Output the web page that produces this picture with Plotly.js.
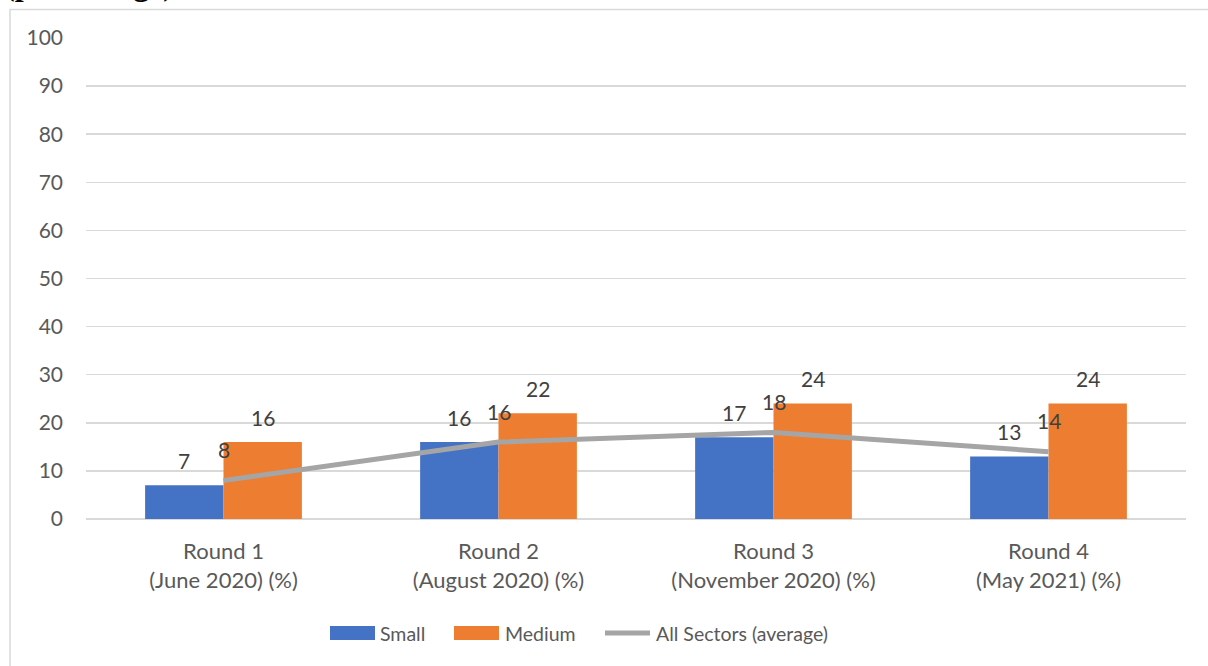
<!DOCTYPE html>
<html>
<head>
<meta charset="utf-8">
<script src="https://cdn.plot.ly/plotly-3.0.1.min.js"></script>
<style>
  html, body { margin: 0; padding: 0; background: #ffffff; }
  #chart { width: 1208px; height: 666px; }
</style>
</head>
<body>
<div id="chart"></div>
<script>
// Survey rounds and their fieldwork periods
const rounds = ['Round 1', 'Round 2', 'Round 3', 'Round 4'];
const periods = ['(June 2020) (%)', '(August 2020) (%)', '(November 2020) (%)', '(May 2021) (%)'];

// Shares by firm size (percentage)
const small = [7, 16, 17, 13];
const medium = [16, 22, 24, 24];
const allSectors = [8, 16, 18, 14];

const seriesNames = ['Small', 'Medium', 'All Sectors (average)'];
const yTicks = [0, 10, 20, 30, 40, 50, 60, 70, 80, 90, 100];

const BLUE = '#4472C4';
const ORANGE = '#ED7D31';
const GREY = '#A5A5A5';
const TEXT = '#404040';
const AXIS_TEXT = '#595959';
const FONT = 'Lato, "Open Sans", sans-serif';

const traces = [
  { type: 'bar', name: seriesNames[0], x: rounds, y: small,
    marker: { color: BLUE, line: { width: 0 } }, hoverinfo: 'skip' },
  { type: 'bar', name: seriesNames[1], x: rounds, y: medium,
    marker: { color: ORANGE, line: { width: 0 } }, hoverinfo: 'skip' },
  { type: 'scatter', mode: 'lines', name: seriesNames[2], x: rounds, y: allSectors,
    line: { color: GREY, width: 5 }, hoverinfo: 'skip' }
];

// Margins of the plotting area (px)
const W = 1208, H = 666;
const M = { l: 86, r: 22, t: 38, b: 147 };
const BARGAP = 0.43;
const plotW = W - M.l - M.r, plotH = H - M.t - M.b;
const px = v => (v - M.l) / plotW;          // page x -> paper x
const py = v => (H - M.b - v) / plotH;      // page y -> paper y

// centre offset of each bar inside its group, in px
const halfBar = plotW / rounds.length * (1 - BARGAP) / 4;

const annotations = [];
const labelFont = { family: FONT, size: 21, color: TEXT };
rounds.forEach((r, i) => {
  annotations.push({ x: r, y: small[i], xref: 'x', yref: 'y', text: String(small[i]),
    showarrow: false, xshift: -halfBar, yshift: 25, font: labelFont });
  annotations.push({ x: r, y: medium[i], xref: 'x', yref: 'y', text: String(medium[i]),
    showarrow: false, xshift: halfBar, yshift: 25, font: labelFont });
  annotations.push({ x: r, y: allSectors[i], xref: 'x', yref: 'y', text: String(allSectors[i]),
    showarrow: false, yshift: 31, font: labelFont });
});

// Heading line running off the top of the page
annotations.push({ x: px(3), y: py(3), xref: 'paper', yref: 'paper', xanchor: 'left', yanchor: 'bottom',
  text: '<b>(percentage)</b>', showarrow: false, borderpad: 0,
  font: { family: '"Liberation Serif", "Times New Roman", serif', size: 32, color: '#000000' } });

// Legend drawn by hand: wide swatches like the office-style key
const legY = 633;
const legendFont = { family: FONT, size: 19.5, color: AXIS_TEXT };
const shapes = [
  // outer chart frame
  { type: 'rect', xref: 'paper', yref: 'paper', x0: px(10), x1: px(1220), y0: py(9.5), y1: py(680),
    line: { color: '#D9D9D9', width: 1.5 }, fillcolor: 'rgba(0,0,0,0)', layer: 'below' },
  { type: 'rect', xref: 'paper', yref: 'paper', x0: px(330), x1: px(375), y0: py(626), y1: py(640),
    line: { width: 0 }, fillcolor: BLUE },
  { type: 'rect', xref: 'paper', yref: 'paper', x0: px(454), x1: px(499), y0: py(626), y1: py(640),
    line: { width: 0 }, fillcolor: ORANGE },
  { type: 'line', xref: 'paper', yref: 'paper', x0: px(605), x1: px(650), y0: py(legY), y1: py(legY),
    line: { color: GREY, width: 5 } }
];
[[378, seriesNames[0]], [503, seriesNames[1]], [654, seriesNames[2]]].forEach(([xp, t]) => {
  annotations.push({ x: px(xp), y: py(legY), xref: 'paper', yref: 'paper', xanchor: 'left', yanchor: 'middle',
    text: t, showarrow: false, font: legendFont });
});

const layout = {
  width: W, height: H,
  margin: M,
  paper_bgcolor: '#ffffff', plot_bgcolor: '#ffffff',
  barmode: 'group', bargap: BARGAP, bargroupgap: 0,
  showlegend: false,
  font: { family: FONT, color: AXIS_TEXT },
  xaxis: {
    type: 'category',
    tickvals: rounds,
    ticktext: rounds.map((r, i) => r + '<br>' + periods[i]),
    tickfont: { family: FONT, size: 22, color: AXIS_TEXT },
    ticks: '', showgrid: false, showline: false, zeroline: false,
    ticklabelstandoff: 17
  },
  yaxis: {
    range: [0, 100], tickvals: yTicks, ticktext: yTicks.map(String),
    tickfont: { family: FONT, size: 21, color: AXIS_TEXT },
    showgrid: true, gridcolor: '#D9D9D9', gridwidth: 1.5,
    zeroline: true, zerolinecolor: '#D9D9D9', zerolinewidth: 1.5,
    showline: false, ticks: '', ticklabelstandoff: 22
  },
  annotations: annotations,
  shapes: shapes
};

Plotly.newPlot('chart', traces, layout, { staticPlot: true, displayModeBar: false });
</script>
</body>
</html>
